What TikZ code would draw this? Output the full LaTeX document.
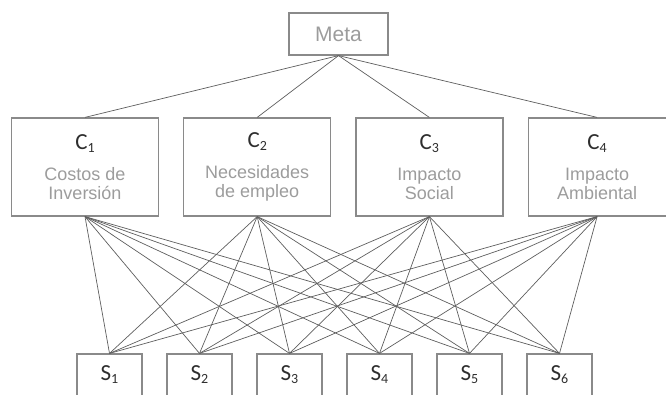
\documentclass[tikz,border=0pt]{standalone}
\usepackage{fontspec}
\usepackage{tikz}
\usetikzlibrary{positioning}
\newfontfamily\arialfont{Liberation Sans}
\newfontfamily\calfont{Carlito}
\definecolor{frame}{HTML}{8A8A8A}
\definecolor{wire}{HTML}{5E5E5E}
\definecolor{soft}{HTML}{9C9C9C}
\definecolor{ink}{HTML}{2E2E2E}
\newcommand\lowidx[1]{\raisebox{-3pt}{\fontsize{14}{14}\selectfont #1}}
\newcommand\idxlabel[2]{{\calfont\fontsize{23}{26}\selectfont\color{ink}#1\lowidx{#2}}}
\tikzset{goalbox/.style={draw=frame,line width=1.2pt,minimum width=99pt,minimum height=42pt,
  inner sep=0pt,text=soft,font=\arialfont\fontsize{21}{24}\selectfont},
  critbox/.style={draw=frame,line width=1.2pt,minimum width=147pt,minimum height=98pt,
  inner sep=0pt,align=center,text=soft,font=\arialfont\fontsize{18}{19}\selectfont},
  sbox/.style={draw=frame,line width=1.2pt,minimum width=65pt,minimum height=42pt,inner sep=0pt},
  link/.style={draw=wire,line width=0.7pt}}

\begin{document}
\begin{tikzpicture}[x=1pt,y=-1pt,node distance=24pt]
\useasboundingbox (0,0) rectangle (666,394);
\clip (0,0) rectangle (666,394);
\node[goalbox] (meta) at (338.5,34) {Meta};
\node[critbox] (c1) at (85,167) {\idxlabel{C}{1}\\[12pt]Costos de\\Inversión};
\node[critbox,right=of c1] (c2) {\idxlabel{C}{2}\\[12pt]Necesidades\\de empleo};
\node[critbox,right=of c2] (c3) {\idxlabel{C}{3}\\[12pt]Impacto\\Social};
\node[critbox,right=of c3,minimum width=138pt] (c4) {\idxlabel{C}{4}\\[12pt]Impacto\\Ambiental};
\foreach \i in {1,...,6}
  \node[sbox] (s\i) at ({109.5+90*(\i-1)},375) {\idxlabel{S}{\i}};
\foreach \c in {1,...,4}
  \draw[link] (meta.south)--(c\c.north);
\foreach \c in {1,...,4}
  \foreach \s in {1,...,6}
    \draw[link] (c\c.south)--(s\s.north);
\end{tikzpicture}
\end{document}
